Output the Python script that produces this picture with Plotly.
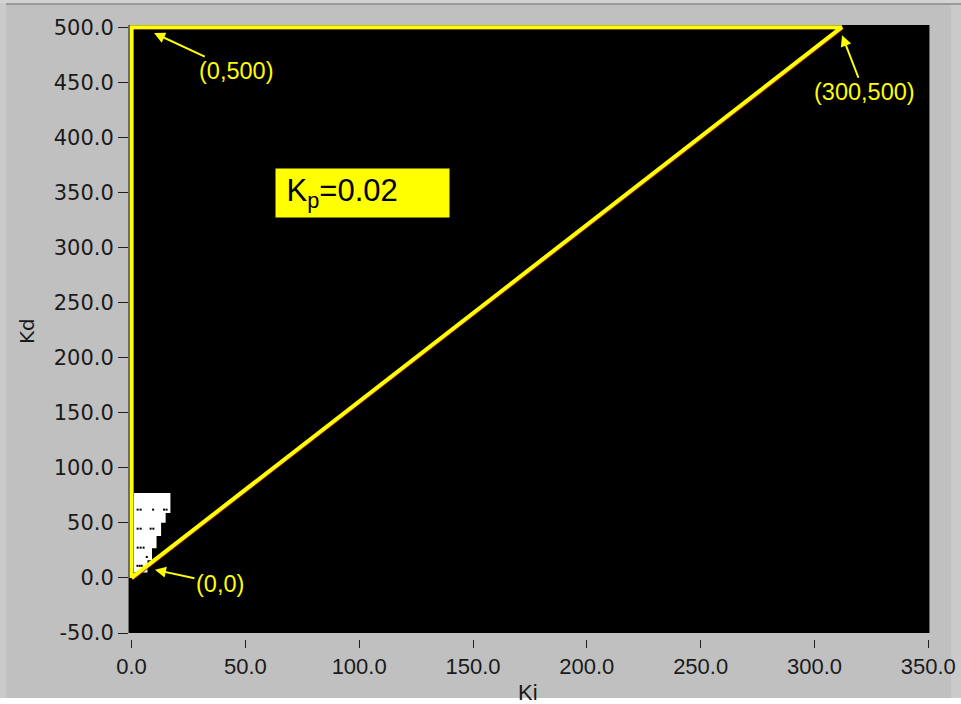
import plotly.graph_objects as go

# ---------------- data ----------------
tri_ki = [0, 0, 312, 0]
tri_kd = [0, 500, 500, 0]

stair_ki = [1, 1, 17.1, 17.1, 15.0, 15.0, 13.0, 13.0, 11.0, 11.0, 9.0, 9.0, 7.0, 7.0, 1]
stair_kd = [5, 77, 77, 59, 59, 50, 50, 38, 38, 27, 27, 16, 16, 5, 5]

dot_ki = [2.7, 4.0, 9.5, 14.3, 15.4, 2.7, 4.0, 8.4, 9.6, 2.7, 4.0, 5.3, 6.7, 2.6, 3.6, 4.5]
dot_kd = [62, 62, 62, 62, 62, 44.7, 44.7, 44.7, 44.7, 27.5, 27.5, 27.5, 19, 11, 11, 11]

x_ticks = [0, 50, 100, 150, 200, 250, 300, 350]
y_ticks = [-50, 0, 50, 100, 150, 200, 250, 300, 350, 400, 450, 500]

labels = ["(0,500)", "(300,500)", "(0,0)"]
label_ki = [9.9, 312.1, 10.3]
label_kd = [494.7, 492.7, 7.4]
label_off = [(82, 38), (22, 57), (65, 14)]

# ---------------- layout geometry ----------------
W, H = 961, 704
L, R, T, B = 129, 32, 25, 65
xr = [-1.1, 350.3]
yr = [-50, 502]
pw = W - L - R
ph = H - T - B
ydom0 = 6 / ph
px_per_x = pw / (xr[1] - xr[0])
px_per_y = ph * (1 - ydom0) / (yr[1] - yr[0])


def fx(px):
    return (px - L) / pw


def fy(py):
    return 1 - (py - T) / ph


YEL = "#ffff00"
GRAY = "#c0c0c0"
TXT = "#1a1a1a"

fig = go.Figure()

# white stair region
fig.add_trace(go.Scatter(x=stair_ki, y=stair_kd, mode="lines", fill="toself",
                         fillcolor="white", line=dict(color="white", width=0),
                         hoverinfo="skip", showlegend=False))
fig.add_trace(go.Scatter(x=dot_ki, y=dot_kd, mode="markers",
                         marker=dict(color="black", size=2, symbol="square"),
                         hoverinfo="skip", showlegend=False))

# thin red shadow of the boundary (offset by ~1.5 px)
dx = 1.5 / px_per_x
dy = 1.5 / px_per_y
fig.add_trace(go.Scatter(x=[v + dx for v in tri_ki], y=[v - dy for v in tri_kd],
                         mode="lines", line=dict(color="#9a2020", width=1.5),
                         hoverinfo="skip", showlegend=False))
# yellow boundary
fig.add_trace(go.Scatter(x=tri_ki, y=tri_kd, mode="lines",
                         line=dict(color=YEL, width=4),
                         hoverinfo="skip", showlegend=False))

annotations = []
for t, xv, yv, (ax, ay) in zip(labels, label_ki, label_kd, label_off):
    annotations.append(dict(x=xv, y=yv, xref="x", yref="y", text=t, showarrow=True,
                            ax=ax, ay=ay, arrowcolor=YEL, arrowhead=2, arrowsize=1.1,
                            arrowwidth=2, font=dict(family="Liberation Sans, Arial", size=23.5, color=YEL)))

annotations.append(dict(x=fx(275), y=fy(193), xref="paper", yref="paper",
                        xanchor="left", yanchor="middle", showarrow=False,
                        text="&nbsp;K<sub>p</sub>=0.02", align="left",
                        width=169, height=44, borderpad=2, bgcolor=YEL,
                        font=dict(family="Liberation Sans, Arial", size=31, color="black")))

annotations.append(dict(x=fx(27), y=fy(331), xref="paper", yref="paper", text="Kd",
                        xanchor="center", yanchor="middle",
                        textangle=-90, showarrow=False,
                        font=dict(family="DejaVu Sans", size=20, color=TXT)))
annotations.append(dict(x=fx(528), y=fy(692), xref="paper", yref="paper", text="Ki",
                        xanchor="center", yanchor="middle", showarrow=False,
                        font=dict(family="Liberation Sans, Arial", size=22, color=TXT)))

shapes = [
    # top light strip and dark edge
    dict(type="rect", xref="paper", yref="paper", x0=fx(0), x1=fx(W), y0=fy(3), y1=fy(0),
         fillcolor="#d2d2d2", line=dict(width=0), layer="below"),
    dict(type="line", xref="paper", yref="paper", x0=fx(0), x1=fx(W), y0=fy(4), y1=fy(4),
         line=dict(color="#9a9a9a", width=2), layer="below"),
    # left strip
    dict(type="rect", xref="paper", yref="paper", x0=fx(0), x1=fx(6), y0=fy(698), y1=fy(3),
         fillcolor="#cacaca", line=dict(width=0), layer="below"),
    # right strip
    dict(type="rect", xref="paper", yref="paper", x0=fx(951), x1=fx(W), y0=fy(698), y1=fy(5),
         fillcolor="#cacaca", line=dict(width=0), layer="below"),
    # bottom white strip
    dict(type="rect", xref="paper", yref="paper", x0=fx(0), x1=fx(W), y0=fy(H), y1=fy(698),
         fillcolor="white", line=dict(width=0), layer="below"),
]

fig.update_layout(
    width=W, height=H,
    margin=dict(l=L, r=R, t=T, b=B, pad=0, autoexpand=False),
    paper_bgcolor=GRAY, plot_bgcolor="black",
    showlegend=False,
    annotations=annotations, shapes=shapes,
    xaxis=dict(range=xr, anchor="free", position=0, tickvals=x_ticks, automargin=False,
               ticktext=[f"{v:.1f}" for v in x_ticks], ticks="outside", ticklen=8,
               tickcolor="#202020", tickwidth=1, showgrid=False, zeroline=False,
               showline=False,
               tickfont=dict(family="Liberation Sans, Arial", size=22, color=TXT)),
    yaxis=dict(range=yr, domain=[ydom0, 1], tickvals=y_ticks, automargin=False,
               ticktext=[f"{v:.1f}" for v in y_ticks], ticks="outside", ticklen=10,
               tickcolor="#202020", tickwidth=1, showgrid=False, zeroline=False,
               showline=True, linecolor="#6a6a6a", linewidth=1, mirror=True,
               tickfont=dict(family="DejaVu Sans", size=21, color=TXT)),
)

fig.write_html("out.html")
